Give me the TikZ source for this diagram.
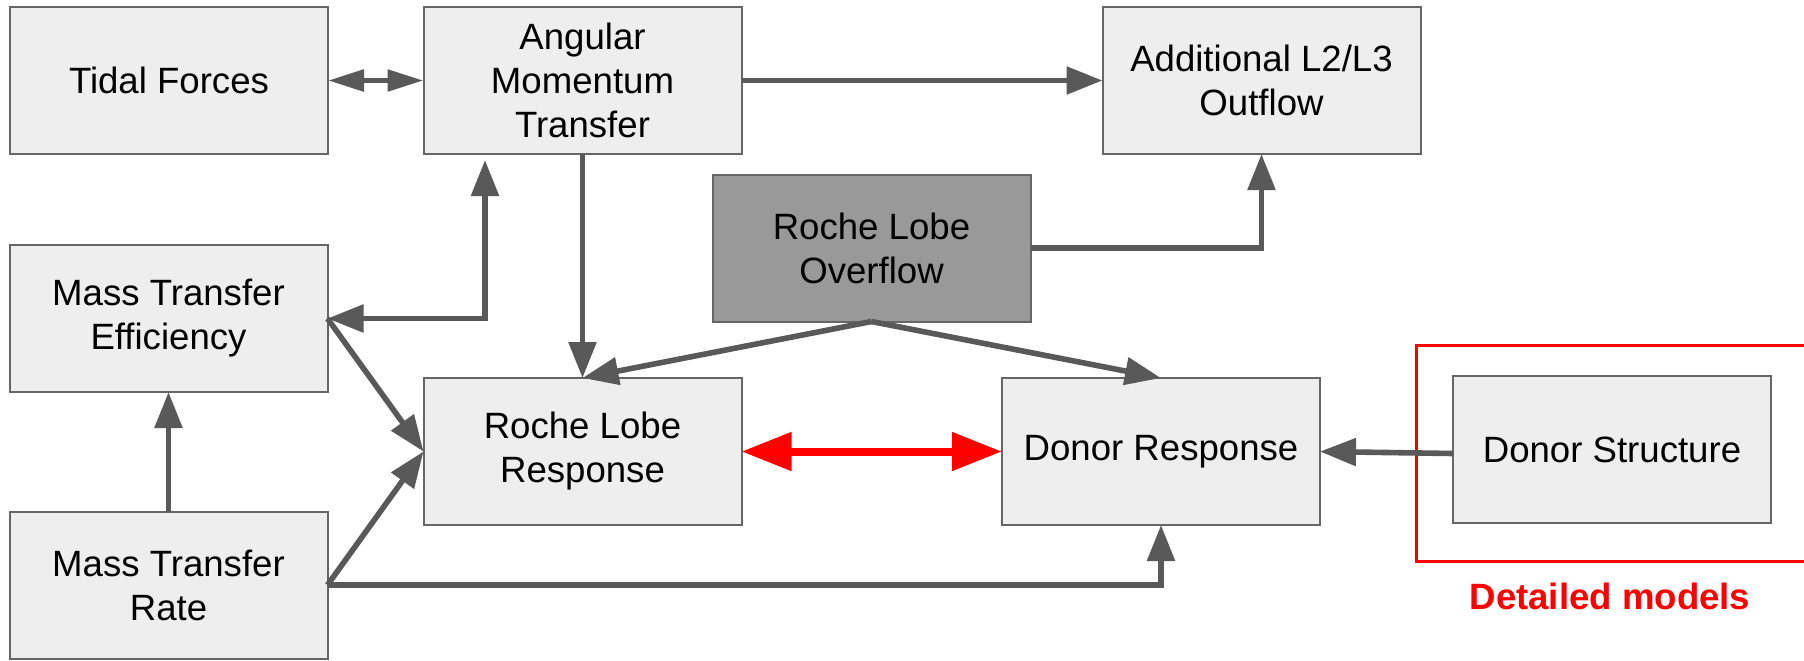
\documentclass[tikz,border=0pt]{standalone}
\usepackage{fontspec}
\setmainfont{Liberation Sans}
\usetikzlibrary{arrows.meta,calc}
\definecolor{boxfill}{HTML}{EEEEEE}
\definecolor{boxdraw}{HTML}{666666}
\definecolor{darkfill}{HTML}{999999}
\definecolor{conn}{HTML}{595959}
\definecolor{redc}{HTML}{FF0000}
\tikzset{
  blk/.style={draw=boxdraw, fill=boxfill, line width=1pt, rectangle,
    minimum width=159pt, minimum height=73.5pt, inner sep=0pt, outer sep=0pt,
    align=center, font=\fontsize{18.3}{22}\selectfont},
  darkblk/.style={blk, fill=darkfill},
  gline/.style={draw=conn, line width=2.8pt, line join=miter,
    -{Triangle[length=18pt,width=13.5pt]}},
  gboth/.style={gline, {Triangle[length=18pt,width=13.5pt]}-{Triangle[length=18pt,width=13.5pt]}},
  tboth/.style={gline, {Triangle[length=18pt,width=10.5pt]}-{Triangle[length=18pt,width=10.5pt]}},
  rboth/.style={draw=redc, line width=4pt,
    {Triangle[length=25pt,width=18.5pt]}-{Triangle[length=25pt,width=18.5pt]}},
}
\begin{document}
\begin{tikzpicture}[x=0.5pt,y=-0.5pt]
\useasboundingbox (0,0) rectangle (1804,660);
\node[blk] (tid) at (169,80.5) {Tidal Forces};
\node[blk] (ang) at (582.5,80.5) {Angular\\Momentum\\Transfer};
\node[blk] (add) at (1261.5,80.5) {Additional L2/L3\\Outflow};
\node[darkblk] (rlo) at (871.5,248) {Roche Lobe\\Overflow};
\node[blk] (mte) at (168.5,318.5) {Mass Transfer\\Efficiency};
\node[blk] (mtr) at (168.5,585) {Mass Transfer\\Rate};
\node[blk] (rlr) at (582.5,451.5) {Roche Lobe\\Response};
\node[blk] (dr) at (1161,451.5) {Donor Response};
\node[blk] (ds) at (1612,449.5) {Donor Structure};
\draw[redc, line width=1.5pt] (1416,345) rectangle (1820,561);
\node[text=redc, font=\fontsize{18.3}{22}\selectfont\bfseries] (dm) at (1610,596) {Detailed models};

\draw[tboth] (tid.east) -- (ang.west);
\draw[gline] (ang.east) -- (add.west);
\draw[gline] (ang.south) -- (rlr.north);
\draw[gboth] (mte.east) -| ([xshift=-48.75pt,yshift=-3pt]ang.south);
\draw[gline] (rlo.east) -| (add.south);
\draw[gline] (rlo.south) -- (rlr.north);
\draw[gline] (rlo.south) -- (dr.north);
\draw[gline] (mte.east) -- (rlr.west);
\draw[gline] (mtr.east) -- (rlr.west);
\draw[gline] (mtr.east) -| (dr.south);
\draw[gline] (mtr.north) -- (mte.south);
\draw[rboth] (rlr.east) -- (dr.west);
\draw[gline] ([yshift=-2pt]ds.west) -- (dr.east);
\end{tikzpicture}
\end{document}
